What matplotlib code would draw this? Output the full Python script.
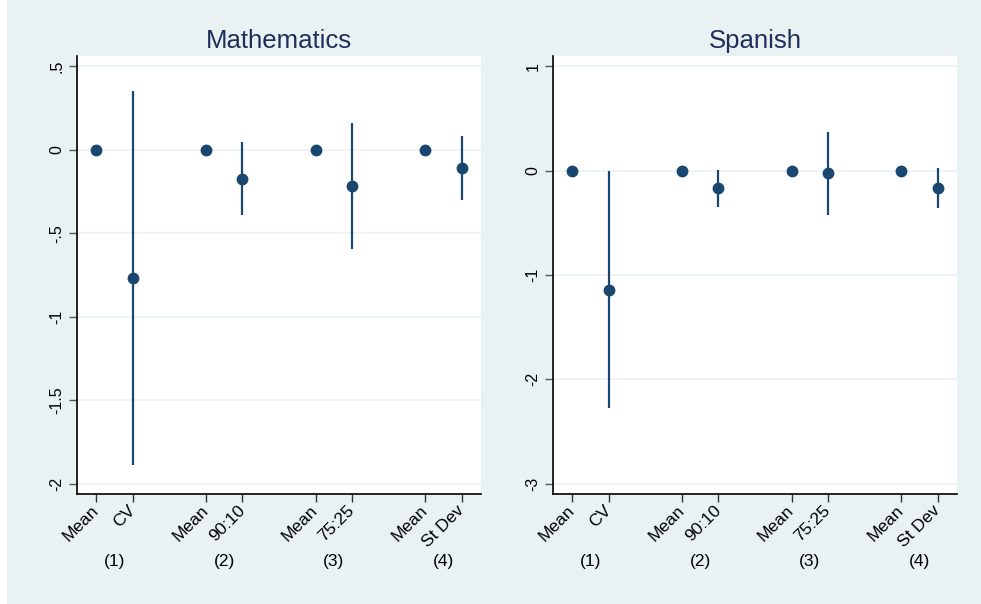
import matplotlib.pyplot as plt
from matplotlib.patches import Rectangle

# positions of the estimates: two per column (1)-(4)
xpos = [1, 2, 4, 5, 7, 8, 10, 11]
xlabels = ["Mean", "CV", "Mean", "90:10", "Mean", "75:25", "Mean", "St Dev"]
groups = ["(1)", "(2)", "(3)", "(4)"]
group_pos = [1.5, 4.5, 7.5, 10.5]

# Mathematics: point estimate, lower and upper bound
math_est = [0, -0.766, 0, -0.176, 0, -0.216, 0, -0.110]
math_lo = [0, -1.886, 0, -0.393, 0, -0.593, 0, -0.299]
math_hi = [0, 0.353, 0, 0.044, 0, 0.160, 0, 0.080]

# Spanish
span_est = [0, -1.148, 0, -0.169, 0, -0.019, 0, -0.166]
span_lo = [0, -2.280, 0, -0.348, 0, -0.420, 0, -0.361]
span_hi = [0, 0.0, 0, 0.010, 0, 0.373, 0, 0.022]

math_ticks = [-2, -1.5, -1, -0.5, 0, 0.5]
math_ticklabels = ["-2", "-1.5", "-1", "-.5", "0", ".5"]
span_ticks = [-3, -2, -1, 0, 1]
span_ticklabels = ["-3", "-2", "-1", "0", "1"]

NAVY = "#1a476f"
BG = "#e9f1f3"
plt.rcParams["font.family"] = ["Liberation Sans", "DejaVu Sans"]

fig = plt.figure(figsize=(9.81, 6.04), dpi=100)
fig.patch.set_facecolor("white")
fig.patches.append(Rectangle((7 / 981, 0), 1, 1, transform=fig.transFigure,
                             facecolor=BG, edgecolor="none", zorder=-10))


def draw_panel(ax, title, est, lo, hi, yticks, yticklabels, ylim):
    ax.set_facecolor("white")
    for x, e, l, h in zip(xpos, est, lo, hi):
        if h > l:
            ax.vlines(x, l, h, color=NAVY, lw=1.6, zorder=3)
    ax.plot(xpos, est, "o", color=NAVY, ms=7.5, zorder=4)

    ax.set_xlim(0.48, 11.52)
    ax.set_ylim(*ylim)
    ax.set_yticks(yticks)
    ax.set_yticklabels(yticklabels, rotation=90, va="center", fontsize=11.5)
    ax.set_xticks(xpos)
    ax.set_xticklabels(xlabels, rotation=45, ha="right", va="center",
                       rotation_mode="anchor", fontsize=12.5)
    ax.tick_params(axis="x", length=6, width=1, color="#333333", pad=4)
    ax.tick_params(axis="y", length=6, width=1, color="#555555", pad=3)
    ax.grid(axis="y", color="#eaf2f3", lw=1.2)
    ax.set_axisbelow(True)
    for side in ["top", "right"]:
        ax.spines[side].set_visible(False)
    for side in ["left", "bottom"]:
        ax.spines[side].set_color("black")
        ax.spines[side].set_linewidth(1.2)

    for gx, g in zip(group_pos, groups):
        ax.text(gx, -0.155, g, transform=ax.get_xaxis_transform(),
                ha="center", va="center", fontsize=12.5)

    ax.set_title(title, fontsize=18.5, color="#1e2f5a", pad=6)


ax1 = fig.add_axes([77 / 981, 110 / 604, 404 / 981, 438 / 604])
draw_panel(ax1, "Mathematics", math_est, math_lo, math_hi,
           math_ticks, math_ticklabels, (-2.06, 0.56))

ax2 = fig.add_axes([553 / 981, 110 / 604, 404 / 981, 438 / 604])
draw_panel(ax2, "Spanish", span_est, span_lo, span_hi,
           span_ticks, span_ticklabels, (-3.1, 1.1))

fig.savefig("out.png", dpi=100, facecolor=fig.get_facecolor())
